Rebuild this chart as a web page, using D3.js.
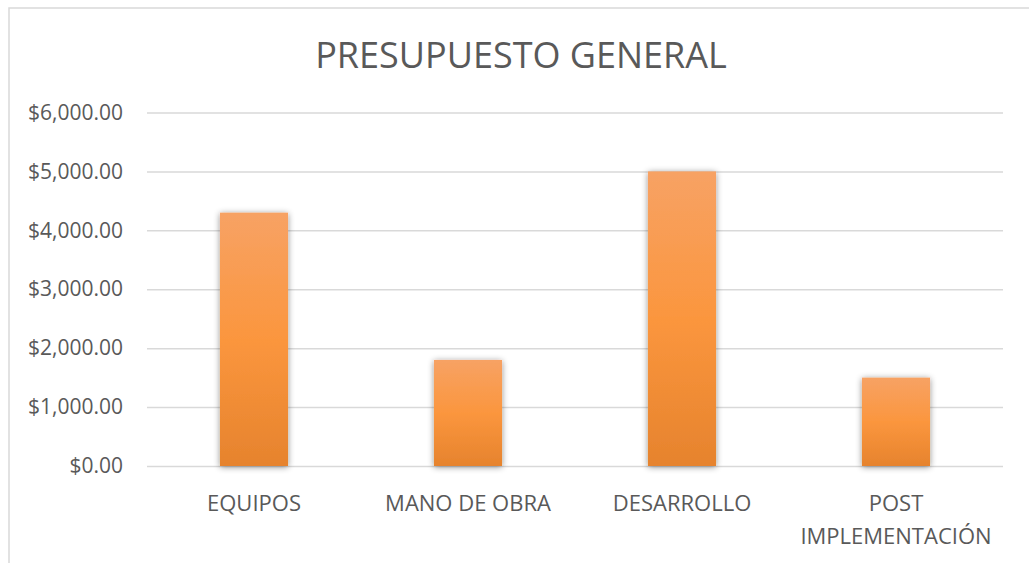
<!DOCTYPE html>
<html>
<head>
<meta charset="utf-8">
<script src="https://cdn.jsdelivr.net/npm/d3@7"></script>
<style>
    body { margin: 0; background: #fff; }
    text { font-family: "Open Sans", sans-serif; fill: #595959; }
</style>
</head>
<body>
<svg id="chart"></svg>
<script>
// data
const categories = ['EQUIPOS', 'MANO DE OBRA', 'DESARROLLO', 'POST IMPLEMENTACIÓN'];
const amounts = [4300, 1800, 5000, 1500];
const yTicks = [0, 1000, 2000, 3000, 4000, 5000, 6000];
const chartTitle = 'PRESUPUESTO GENERAL';

class barChartBudget {
    constructor(_config, _data) {
        this.config = {
            parentElement: _config.parentElement,
            containerWidth: _config.containerWidth || 1029,
            containerHeight: _config.containerHeight || 563,
            margin: _config.margin || {top: 112.5, right: 26, bottom: 97, left: 147}
        }
        this.data = _data;
        this.initVis();
    }

    initVis() {
        let vis = this;

        vis.width = vis.config.containerWidth - vis.config.margin.left - vis.config.margin.right;
        vis.height = vis.config.containerHeight - vis.config.margin.top - vis.config.margin.bottom;

        vis.xScale = d3.scaleBand()
            .domain(categories)
            .range([0, vis.width])
            .paddingInner(0.682)
            .paddingOuter(0.341);

        vis.yScale = d3.scaleLinear()
            .domain([0, 6000])
            .range([vis.height, 0]);

        vis.svg = d3.select(vis.config.parentElement)
            .attr('width', vis.config.containerWidth)
            .attr('height', vis.config.containerHeight);

        // chart area border (only top and left visible in the crop)
        vis.svg.append('rect')
            .attr('x', 9)
            .attr('y', 8)
            .attr('width', 1100)
            .attr('height', 700)
            .attr('fill', 'none')
            .attr('stroke', '#d9d9d9')
            .attr('stroke-width', 1.5);

        let defs = vis.svg.append('defs');
        let grad = defs.append('linearGradient')
            .attr('id', 'barFill')
            .attr('x1', 0).attr('y1', 0)
            .attr('x2', 0).attr('y2', 1);
        grad.append('stop').attr('offset', '0%').attr('stop-color', '#f7a264');
        grad.append('stop').attr('offset', '50%').attr('stop-color', '#fb963e');
        grad.append('stop').attr('offset', '100%').attr('stop-color', '#e6832d');

        let shadow = defs.append('filter')
            .attr('id', 'barShadow')
            .attr('x', '-30%').attr('y', '-10%')
            .attr('width', '160%').attr('height', '120%');
        shadow.append('feDropShadow')
            .attr('dx', 0).attr('dy', 1)
            .attr('stdDeviation', 3)
            .attr('flood-color', '#000')
            .attr('flood-opacity', 0.45);

        vis.chart = vis.svg.append('g')
            .attr('transform', `translate(${vis.config.margin.left},${vis.config.margin.top})`);

        vis.yAxis = d3.axisLeft(vis.yScale)
            .tickValues(yTicks)
            .tickFormat(d => '$' + d3.format(',.2f')(d))
            .tickSize(-vis.width)
            .tickPadding(24);

        vis.xAxis = d3.axisBottom(vis.xScale)
            .tickSize(0)
            .tickPadding(0);

        vis.yAxisG = vis.chart.append('g').attr('class', 'axis y-axis');
        vis.xAxisG = vis.chart.append('g')
            .attr('class', 'axis x-axis')
            .attr('transform', `translate(0,${vis.height})`);

        // Chart title
        vis.svg.append('text')
            .attr('x', 521)
            .attr('y', 68)
            .attr('text-anchor', 'middle')
            .style('font-size', '36px')
            .text(chartTitle);
    }

    updateVis() {
        let vis = this;

        vis.yAxisG.call(vis.yAxis);
        vis.yAxisG.select('.domain').remove();
        vis.yAxisG.selectAll('.tick line')
            .attr('stroke', '#d9d9d9')
            .attr('stroke-width', 1.5);
        vis.yAxisG.selectAll('.tick text')
            .attr('font-family', null)
            .attr('fill', null)
            .style('font-size', '21px');

        vis.chart.selectAll('.chart-bar')
            .data(vis.data)
            .join('rect')
            .attr('class', 'chart-bar')
            .attr('x', d => vis.xScale(d.category))
            .attr('y', d => vis.yScale(d.amount))
            .attr('width', vis.xScale.bandwidth())
            .attr('height', d => vis.height - vis.yScale(d.amount))
            .attr('fill', 'url(#barFill)')
            .attr('filter', 'url(#barShadow)');

        vis.xAxisG.call(vis.xAxis);
        vis.xAxisG.select('.domain').remove();
        vis.xAxisG.selectAll('.tick text').remove();
        vis.xAxisG.selectAll('.tick').each(function(d) {
            let words = d === 'POST IMPLEMENTACIÓN' ? ['POST', 'IMPLEMENTACIÓN'] : [d];
            let t = d3.select(this).append('text')
                .attr('text-anchor', 'middle')
                .style('font-size', '22px');
            words.forEach((w, i) => {
                t.append('tspan')
                    .attr('x', 0)
                    .attr('y', 45 + i * 33)
                    .text(w);
            });
        });
    }
}

let data = categories.map((c, i) => ({category: c, amount: amounts[i]}));
let budgetChart = new barChartBudget({parentElement: '#chart'}, data);
budgetChart.updateVis();
</script>
</body>
</html>
